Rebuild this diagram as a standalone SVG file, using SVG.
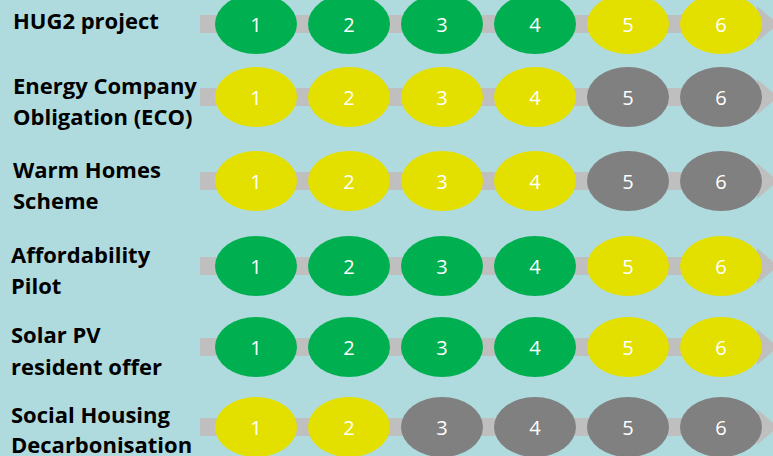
<svg xmlns="http://www.w3.org/2000/svg" width="773" height="456" viewBox="0 0 773 456">
<defs>
<style>
.bg{fill:#b0dbde}
.bar{fill:#bfbfbf}
.g{fill:#00b050}
.y{fill:#e3e000}
.k{fill:#808080}
.lbl{font-family:"Open Sans","Liberation Sans",Arial,sans-serif;font-weight:bold;font-size:22px;fill:#000}
.num{font-family:"Open Sans","Liberation Sans",Arial,sans-serif;font-size:20px;fill:#fff;text-anchor:middle;dominant-baseline:central}
</style>
<g id="track">
<rect class="bar" x="200" y="-9" width="558" height="18"/>
<polygon class="bar" points="757,-18 778,0 757,18"/>
</g>
</defs>
<rect class="bg" x="0" y="0" width="773" height="456"/>
<g id="connectors">
<use href="#track" y="24"/>
<use href="#track" y="97"/>
<use href="#track" y="181"/>
<use href="#track" y="266"/>
<use href="#track" y="347"/>
<use href="#track" y="427"/>
</g>
<g id="row-hug2">
<text class="lbl" x="13" y="29">HUG2 project</text>
<ellipse class="g" cx="256" cy="24" rx="41" ry="30"/><text class="num" x="256" y="24">1</text>
<ellipse class="g" cx="349" cy="24" rx="41" ry="30"/><text class="num" x="349" y="24">2</text>
<ellipse class="g" cx="442" cy="24" rx="41" ry="30"/><text class="num" x="442" y="24">3</text>
<ellipse class="g" cx="535" cy="24" rx="41" ry="30"/><text class="num" x="535" y="24">4</text>
<ellipse class="y" cx="628" cy="24" rx="41" ry="30"/><text class="num" x="628" y="24">5</text>
<ellipse class="y" cx="721" cy="24" rx="41" ry="30"/><text class="num" x="721" y="24">6</text>
</g>
<g id="row-eco">
<text class="lbl" x="13" y="94">Energy Company</text>
<text class="lbl" x="13" y="125">Obligation (ECO)</text>
<ellipse class="y" cx="256" cy="97" rx="41" ry="30"/><text class="num" x="256" y="97">1</text>
<ellipse class="y" cx="349" cy="97" rx="41" ry="30"/><text class="num" x="349" y="97">2</text>
<ellipse class="y" cx="442" cy="97" rx="41" ry="30"/><text class="num" x="442" y="97">3</text>
<ellipse class="y" cx="535" cy="97" rx="41" ry="30"/><text class="num" x="535" y="97">4</text>
<ellipse class="k" cx="628" cy="97" rx="41" ry="30"/><text class="num" x="628" y="97">5</text>
<ellipse class="k" cx="721" cy="97" rx="41" ry="30"/><text class="num" x="721" y="97">6</text>
</g>
<g id="row-warm-homes">
<text class="lbl" x="13" y="178">Warm Homes</text>
<text class="lbl" x="13" y="209">Scheme</text>
<ellipse class="y" cx="256" cy="181" rx="41" ry="30"/><text class="num" x="256" y="181">1</text>
<ellipse class="y" cx="349" cy="181" rx="41" ry="30"/><text class="num" x="349" y="181">2</text>
<ellipse class="y" cx="442" cy="181" rx="41" ry="30"/><text class="num" x="442" y="181">3</text>
<ellipse class="y" cx="535" cy="181" rx="41" ry="30"/><text class="num" x="535" y="181">4</text>
<ellipse class="k" cx="628" cy="181" rx="41" ry="30"/><text class="num" x="628" y="181">5</text>
<ellipse class="k" cx="721" cy="181" rx="41" ry="30"/><text class="num" x="721" y="181">6</text>
</g>
<g id="row-affordability">
<text class="lbl" x="11" y="263">Affordability</text>
<text class="lbl" x="11" y="294">Pilot</text>
<ellipse class="g" cx="256" cy="266" rx="41" ry="30"/><text class="num" x="256" y="266">1</text>
<ellipse class="g" cx="349" cy="266" rx="41" ry="30"/><text class="num" x="349" y="266">2</text>
<ellipse class="g" cx="442" cy="266" rx="41" ry="30"/><text class="num" x="442" y="266">3</text>
<ellipse class="g" cx="535" cy="266" rx="41" ry="30"/><text class="num" x="535" y="266">4</text>
<ellipse class="y" cx="628" cy="266" rx="41" ry="30"/><text class="num" x="628" y="266">5</text>
<ellipse class="y" cx="721" cy="266" rx="41" ry="30"/><text class="num" x="721" y="266">6</text>
</g>
<g id="row-solar">
<text class="lbl" x="11" y="343">Solar PV</text>
<text class="lbl" x="11" y="375">resident offer</text>
<ellipse class="g" cx="256" cy="347" rx="41" ry="30"/><text class="num" x="256" y="347">1</text>
<ellipse class="g" cx="349" cy="347" rx="41" ry="30"/><text class="num" x="349" y="347">2</text>
<ellipse class="g" cx="442" cy="347" rx="41" ry="30"/><text class="num" x="442" y="347">3</text>
<ellipse class="g" cx="535" cy="347" rx="41" ry="30"/><text class="num" x="535" y="347">4</text>
<ellipse class="y" cx="628" cy="347" rx="41" ry="30"/><text class="num" x="628" y="347">5</text>
<ellipse class="y" cx="721" cy="347" rx="41" ry="30"/><text class="num" x="721" y="347">6</text>
</g>
<g id="row-social-housing">
<text class="lbl" x="11" y="423">Social Housing</text>
<text class="lbl" x="11" y="453">Decarbonisation</text>
<ellipse class="y" cx="256" cy="427" rx="41" ry="30"/><text class="num" x="256" y="427">1</text>
<ellipse class="y" cx="349" cy="427" rx="41" ry="30"/><text class="num" x="349" y="427">2</text>
<ellipse class="k" cx="442" cy="427" rx="41" ry="30"/><text class="num" x="442" y="427">3</text>
<ellipse class="k" cx="535" cy="427" rx="41" ry="30"/><text class="num" x="535" y="427">4</text>
<ellipse class="k" cx="628" cy="427" rx="41" ry="30"/><text class="num" x="628" y="427">5</text>
<ellipse class="k" cx="721" cy="427" rx="41" ry="30"/><text class="num" x="721" y="427">6</text>
</g>
</svg>
